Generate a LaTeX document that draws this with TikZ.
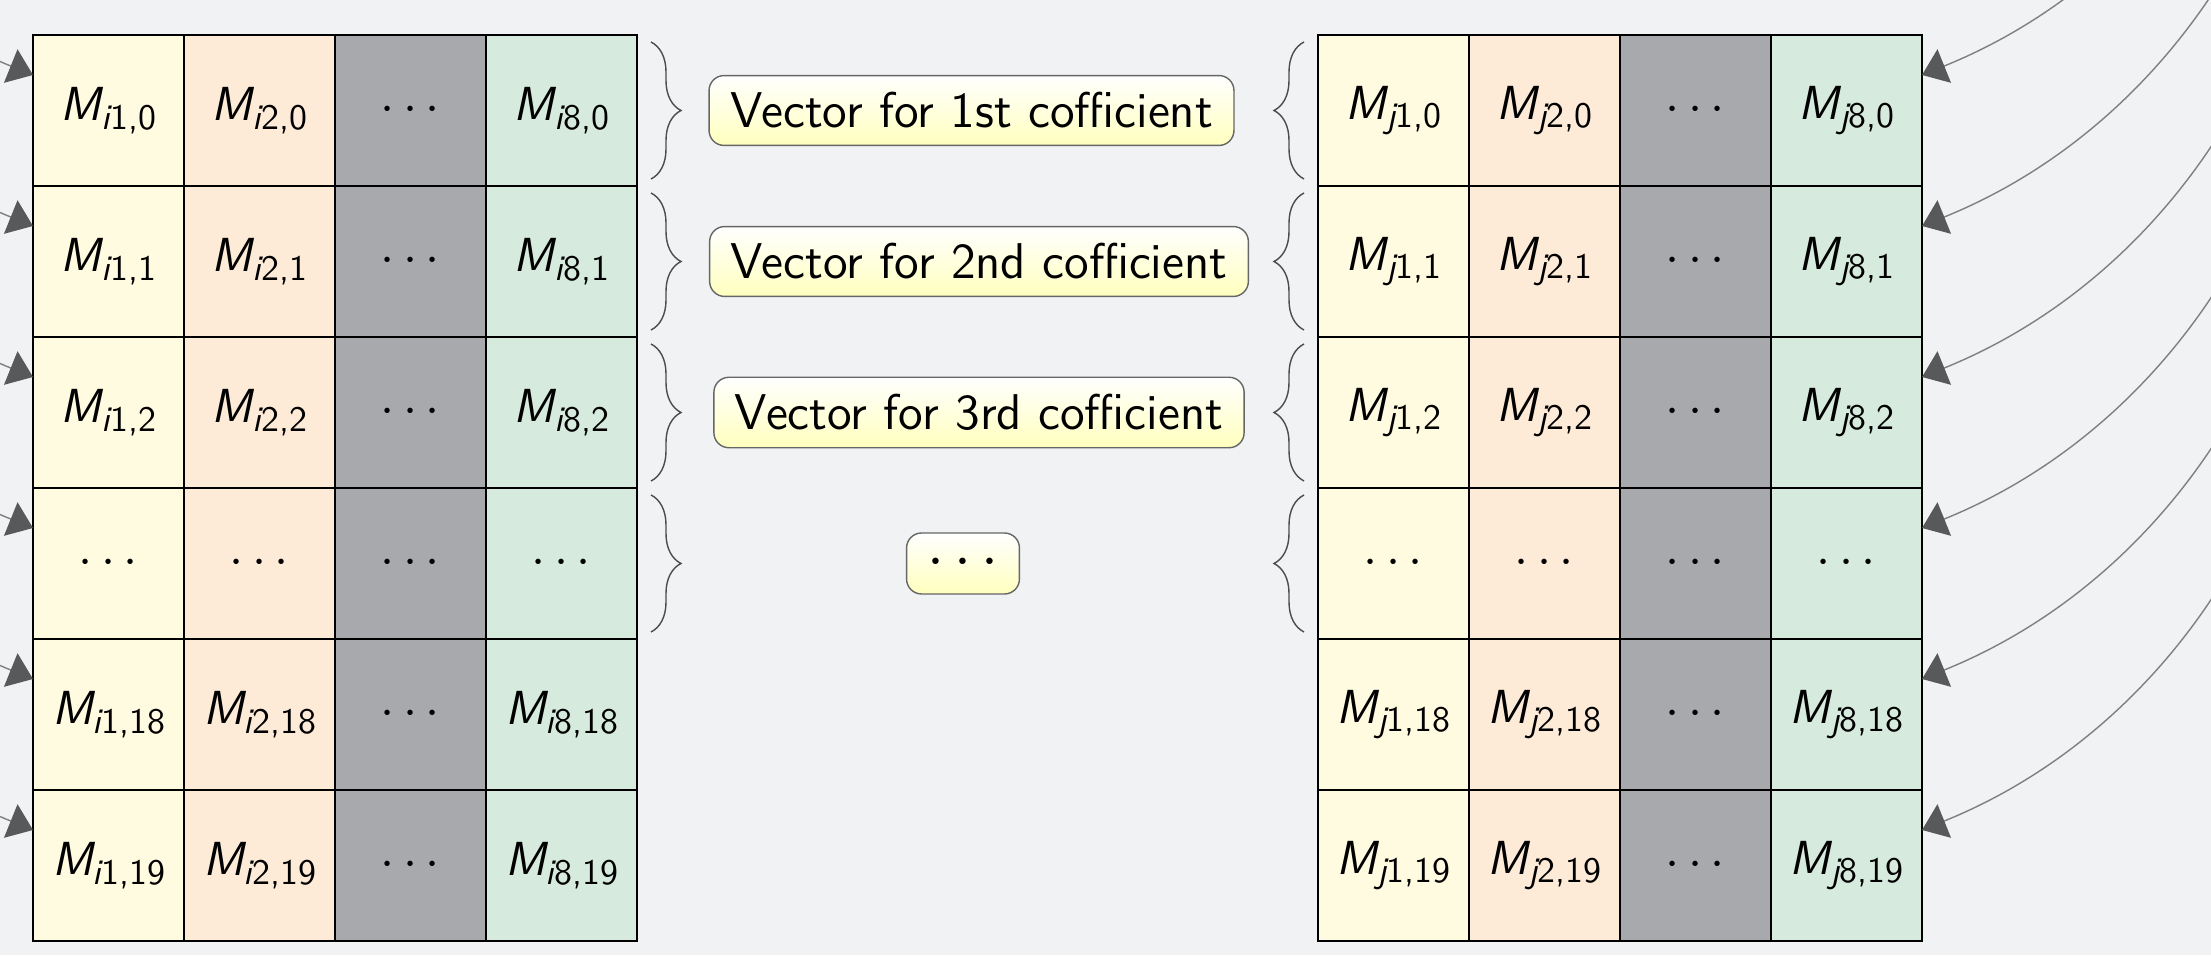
\documentclass[tikz,border=0pt]{standalone}
\usepackage{fontspec}
\usepackage{tikz}
\usetikzlibrary{positioning, arrows.meta, decorations.pathreplacing}
\definecolor{pagebg}{RGB}{241,242,244}
\definecolor{cellA}{RGB}{255,251,224}
\definecolor{cellB}{RGB}{253,235,216}
\definecolor{cellC}{RGB}{168,169,173}
\definecolor{cellD}{RGB}{214,234,221}
\definecolor{linkgray}{RGB}{128,128,128}
\definecolor{tipgray}{RGB}{88,89,91}
\definecolor{boxyellow}{RGB}{255,255,190}
\tikzset{every picture/.style={line width=0.4pt}}
\tikzset{cell/.style={draw=black, minimum width=1.51cm, minimum height=1.51cm, inner sep=0pt, outer sep=0pt, font=\sffamily\fontsize{13.6}{15}\selectfont}}
\tikzset{coefbox/.style={draw=black!60, rounded corners=1.5mm, top color=white, bottom color=boxyellow, inner xsep=2.1mm, inner ysep=1.7mm, font=\sffamily\fontsize{14.3}{16}\selectfont}}
\tikzset{brc/.style={draw=black!70, decorate, decoration={brace, amplitude=3mm}}}
\tikzset{link/.style={draw=linkgray, {Triangle[length=2.4mm,width=3.6mm,color=tipgray]}-}}
\newcommand\mlab[3]{{\itshape M}\raisebox{-0.4ex}{\fontsize{10.2}{11}\selectfont\itshape #1\upshape #2,#3}}
\newcommand\celldots{{\fontsize{14.4}{16}\selectfont$\cdots$}}
\newcommand\celltext[1]{\ifnum\idx=0 \celldots\else\ifnum\rr=3 \celldots\else\mlab{#1}{\idx}{\k}\fi\fi}

\begin{document}
\begin{tikzpicture}
  \useasboundingbox (0,0) rectangle (22.11,9.55);
  \fill[pagebg] (0,0) rectangle (22.11,9.55);

  % the two tables
  \foreach \cc/\idx/\fillc in {1/1/cellA,2/2/cellB,3/0/cellC,4/8/cellD}
    \foreach \rr/\k in {0/0,1/1,2/2,3/3,4/18,5/19} {
      \node[cell, fill=\fillc] (i\cc\rr) at ({0.33+(\cc-0.5)*1.51},{9.2-(\rr+0.5)*1.51}) {\celltext{i}};
      \node[cell, fill=\fillc] (j\cc\rr) at ({13.18+(\cc-0.5)*1.51},{9.2-(\rr+0.5)*1.51}) {\celltext{j}};
    }

  \foreach \rr in {0,...,3} {
    \draw[brc] ([xshift=1.4mm,yshift=-0.7mm]i4\rr.north east) -- ([xshift=1.4mm,yshift=0.7mm]i4\rr.south east);
    \draw[brc] ([xshift=-1.4mm,yshift=0.7mm]j1\rr.south west) -- ([xshift=-1.4mm,yshift=-0.7mm]j1\rr.north west);
  }

  \node[coefbox] (v0) at (9.715,0 |- i40) {Vector for 1st cofficient};
  \node[coefbox] (v1) at (9.79,0 |- i41) {Vector for 2nd cofficient};
  \node[coefbox] (v2) at (9.79,0 |- i42) {Vector for 3rd cofficient};
  \node[coefbox] (v3) at (9.63,0 |- i43) {\fontsize{17.28}{19}\selectfont$\cdots$};

  \begin{scope}
  \clip (0,0) rectangle (22.11,9.55);
  \foreach \rr in {0,...,5} {
    \draw[link] ([yshift=3.55mm]j4\rr.east) arc[start angle=-68, end angle=5, radius=6.36cm];
    \draw[link] ([yshift=3.55mm]i1\rr.west) arc[start angle=248, end angle=175, radius=6.36cm];
  }
  \end{scope}
\end{tikzpicture}
\end{document}
